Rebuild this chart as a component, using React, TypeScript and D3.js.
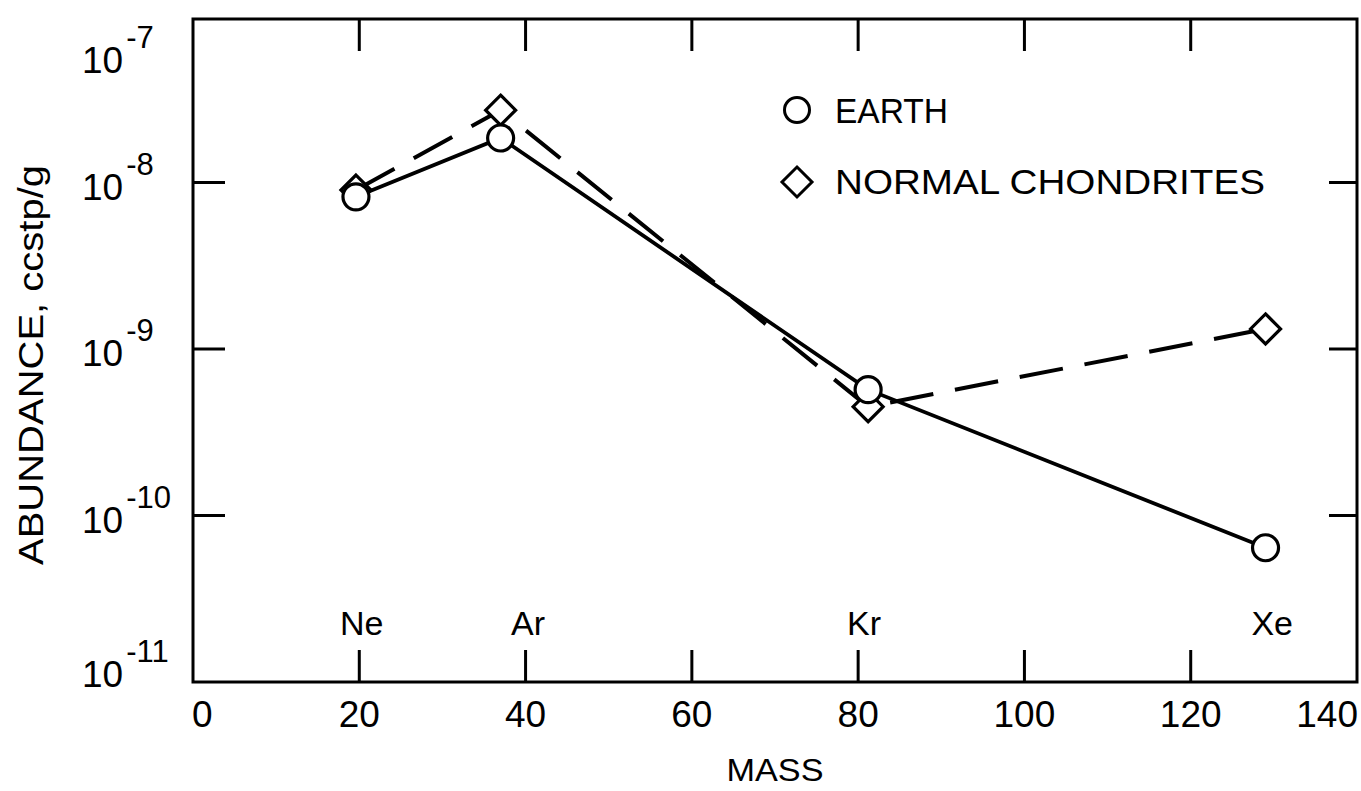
import * as React from "react"
import * as d3 from "d3"

const elements = ["Ne", "Ar", "Kr", "Xe"]
const masses = [19.6, 37, 81.2, 129]
const earth = [8.2e-9, 1.85e-8, 5.7e-10, 6.4e-11]
const chondrites = [9.0e-9, 2.72e-8, 4.5e-10, 1.32e-9]
const labelMasses = [20.3, 40.3, 80.7, 129.8]
const xTicks = [0, 20, 40, 60, 80, 100, 120, 140]
const yExponents = [-7, -8, -9, -10, -11]

const width = 1361
const height = 791
const margin = { top: 16, right: 4, bottom: 109, left: 193 }
const FONT = "'Liberation Sans', Arial, sans-serif"

export default function App() {
  const x = d3.scaleLinear().domain([0, 140]).range([margin.left, width - margin.right])
  const y = d3.scaleLog().domain([1e-11, 1e-7]).range([height - margin.bottom, margin.top])

  const x0 = x(0)
  const x1 = x(140)
  const yTop = 19
  const yBot = y(1e-11)

  const line = d3
    .line<number>()
    .x((_, i) => x(masses[i]))
    .y((d) => y(d))

  const diamond = (cx: number, cy: number, r: number) =>
    `M${cx},${cy - r}L${cx + r},${cy}L${cx},${cy + r}L${cx - r},${cy}Z`

  return (
    <svg
      width={width}
      height={height}
      style={{ position: "absolute", left: 0, top: 0, background: "#fff" }}
      fontFamily={FONT}
    >
      {/* series lines */}
      <path d={line(chondrites) || ""} fill="none" stroke="#000" strokeWidth={4} strokeDasharray="44 22" />
      <path d={line(earth) || ""} fill="none" stroke="#000" strokeWidth={3.8} />

      {/* markers */}
      {chondrites.map((v, i) => (
        <path key={"d" + i} d={diamond(x(masses[i]), y(v), 15)} fill="#fff" stroke="#000" strokeWidth={3.2} />
      ))}
      {earth.map((v, i) => (
        <circle key={"c" + i} cx={x(masses[i])} cy={y(v)} r={13} fill="#fff" stroke="#000" strokeWidth={3.2} />
      ))}

      {/* frame */}
      <rect x={x0} y={yTop} width={x1 - x0} height={yBot - yTop} fill="none" stroke="#000" strokeWidth={3} />

      {/* x ticks bottom & top */}
      {xTicks.slice(1, -1).map((t) => (
        <g key={"xt" + t}>
          <line x1={x(t)} x2={x(t)} y1={yBot} y2={yBot - 32} stroke="#000" strokeWidth={3} />
          <line x1={x(t)} x2={x(t)} y1={yTop} y2={yTop + 32} stroke="#000" strokeWidth={3} />
        </g>
      ))}
      {xTicks.map((t, i) => (
        <text
          key={"xl" + t}
          x={i === 0 ? x(t) - 1 : i === xTicks.length - 1 ? x(t) + 1 : x(t)}
          y={727}
          fontSize={37}
          textAnchor={i === 0 ? "start" : i === xTicks.length - 1 ? "end" : "middle"}
        >
          {t}
        </text>
      ))}

      {/* y ticks left & right */}
      {yExponents.slice(1, -1).map((e) => (
        <g key={"yt" + e}>
          <line x1={x0} x2={x0 + 32} y1={y(Math.pow(10, e))} y2={y(Math.pow(10, e))} stroke="#000" strokeWidth={3} />
          <line x1={x1} x2={x1 - 28} y1={y(Math.pow(10, e))} y2={y(Math.pow(10, e))} stroke="#000" strokeWidth={3} />
        </g>
      ))}
      {yExponents.map((e) => {
        const base = Math.max(73, Math.min(687, y(Math.pow(10, e)) + 17))
        return (
          <text key={"yl" + e} x={82} y={base} fontSize={37}>
            10
            <tspan dx={3} dy={-25} fontSize={31}>
              {"-" + Math.abs(e)}
            </tspan>
          </text>
        )
      })}

      {/* element labels */}
      {elements.map((el, i) => (
        <text key={el} x={x(labelMasses[i])} y={635} fontSize={34} textAnchor="middle">
          {el}
        </text>
      ))}

      {/* legend */}
      <circle cx={797} cy={110} r={12.5} fill="#fff" stroke="#000" strokeWidth={3} />
      <text x={835} y={123} fontSize={35} textLength={113} lengthAdjust="spacingAndGlyphs">
        EARTH
      </text>
      <path d={diamond(797, 182, 15)} fill="#fff" stroke="#000" strokeWidth={3} />
      <text x={835} y={194} fontSize={35} textLength={430} lengthAdjust="spacingAndGlyphs">
        NORMAL CHONDRITES
      </text>

      {/* axis titles */}
      <text x={775} y={781} fontSize={32} textAnchor="middle" textLength={97} lengthAdjust="spacingAndGlyphs">
        MASS
      </text>
      <text
        transform="translate(43,365) rotate(-90)"
        fontSize={35}
        textAnchor="middle"
        textLength={400}
        lengthAdjust="spacingAndGlyphs"
      >
        ABUNDANCE, ccstp/g
      </text>
    </svg>
  )
}
